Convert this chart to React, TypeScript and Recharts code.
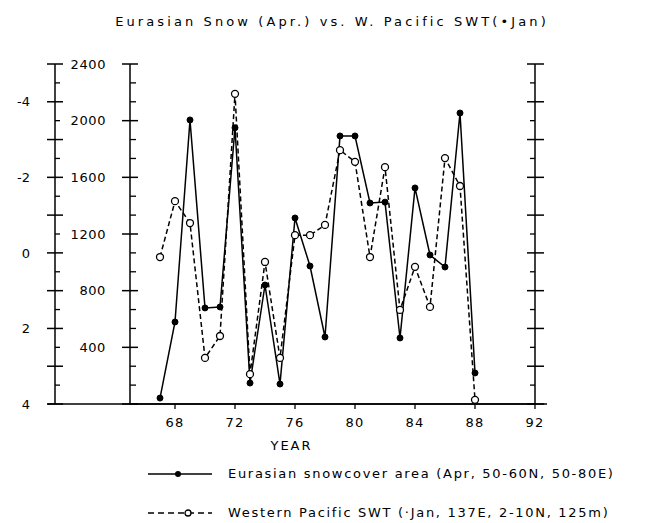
import { LineChart, Line, XAxis, YAxis, Legend, ReferenceLine } from 'recharts'

const YEARS = [67, 68, 69, 70, 71, 72, 73, 74, 75, 76, 77, 78, 79, 80, 81, 82, 83, 84, 85, 86, 87, 88]
// Eurasian snowcover area, April (inner left axis)
const SNOW_AREA = [42, 579, 2005, 678, 685, 1950, 148, 840, 141, 1313, 974, 473, 1892, 1892, 1419, 1425, 466, 1525, 1052, 967, 2054, 219]
// Western Pacific SWT anomaly, January (outer left axis, reversed)
const SWT_ANOMALY = [0.11, -1.37, -0.79, 2.78, 2.2, -4.21, 3.21, 0.24, 2.78, -0.47, -0.47, -0.74, -2.72, -2.41, 0.11, -2.27, 1.51, 0.37, 1.43, -2.51, -1.77, 3.89]

const YEAR_TICKS = [68, 72, 76, 80, 84, 88, 92]
const SNOW_LABELS = [400, 800, 1200, 1600, 2000, 2400]
const SWT_LABELS = [-4, -2, 0, 2, 4]

const SNOW_AXIS_TICKS = Array.from({ length: 19 }, (_, i) => (i * 400) / 3)
const SWT_AXIS_TICKS = Array.from({ length: 19 }, (_, i) => -5 + i * 0.5)

const data = YEARS.map((year, i) => ({ year, snow: SNOW_AREA[i], swt: SWT_ANOMALY[i] }))

const FONT = '"DejaVu Sans", sans-serif'
const INK = '#000'

const isInt = (v: number) => Math.abs(v - Math.round(v)) < 1e-6

const SnowTick = ({ x, y, payload }: any) => {
  const v = payload.value
  const major = isInt(v / 400)
  const label = SNOW_LABELS.find((l) => Math.abs(l - v) < 1e-6)
  return (
    <g>
      {major
        ? <line x1={x - 8} x2={x + 8} y1={y} y2={y} stroke={INK} strokeWidth={1.5} />
        : <line x1={x} x2={x + 6} y1={y} y2={y} stroke={INK} strokeWidth={1.3} />}
      {label !== undefined && (
        <text x={x - 24} y={y} dy="0.36em" textAnchor="end" fontSize={13} fontFamily={FONT} letterSpacing={0.6} fill={INK}>
          {label}
        </text>
      )}
    </g>
  )
}

const SwtTick = ({ x, y, payload }: any) => {
  const v = payload.value
  const major = isInt(v)
  const label = SWT_LABELS.find((l) => Math.abs(l - v) < 1e-6)
  return (
    <g>
      {major
        ? <line x1={x - 8} x2={x + 8} y1={y} y2={y} stroke={INK} strokeWidth={1.5} />
        : <line x1={x} x2={x + 5} y1={y} y2={y} stroke={INK} strokeWidth={1.3} />}
      {label !== undefined && (
        <text x={x - 25} y={y} dy="0.36em" textAnchor="end" fontSize={13} fontFamily={FONT} fill={INK}>
          {label}
        </text>
      )}
    </g>
  )
}

const RightTick = ({ x, y, payload }: any) => {
  const major = isInt(payload.value)
  return major
    ? <line x1={x - 8} x2={x + 9} y1={y} y2={y} stroke={INK} strokeWidth={1.5} />
    : <line x1={x - 5} x2={x} y1={y} y2={y} stroke={INK} strokeWidth={1.3} />
}

const BottomTick = ({ x, y, payload }: any) => (
  <g>
    <line x1={x} x2={x} y1={y} y2={y + 5} stroke={INK} strokeWidth={1.3} />
    <text x={x} y={y + 23} textAnchor="middle" fontSize={13} fontFamily={FONT} letterSpacing={1.2} fill={INK}>
      {payload.value}
    </text>
  </g>
)

const TopTick = ({ x, y }: any) => (
  <line x1={x} x2={x} y1={y} y2={y - 4} stroke={INK} strokeWidth={1.3} />
)

const renderLegend = (props: any) => {
  const items = props.payload || []
  return (
    <div style={{ fontFamily: FONT, fontSize: 13, letterSpacing: 1.7, color: INK }}>
      {items.map((entry: any) => {
        const dashed = entry.dataKey === 'swt'
        return (
          <div key={entry.value} style={{ display: 'flex', alignItems: 'center', height: 39 }}>
            <svg width={64} height={14} style={{ marginRight: 16 }}>
              <line x1={0} x2={64} y1={7} y2={7} stroke={INK} strokeWidth={1.5} strokeDasharray={dashed ? '6 4' : undefined} />
              {dashed
                ? <circle cx={40} cy={7} r={3} fill="#fff" stroke={INK} strokeWidth={1.3} />
                : <circle cx={30} cy={7} r={3} fill={INK} />}
            </svg>
            <span style={{ whiteSpace: 'nowrap' }}>{entry.value}</span>
          </div>
        )
      })}
    </div>
  )
}

export default function App() {
  return (
    <div style={{ position: 'relative', width: 635, height: 515, fontFamily: FONT }}>
      <div
        style={{
          position: 'absolute',
          top: 6,
          left: 324,
          transform: 'translateX(-50%)',
          whiteSpace: 'nowrap',
          fontSize: 13,
          letterSpacing: 3.1,
          color: INK,
        }}
      >
        Eurasian Snow (Apr.) vs. W. Pacific SWT(•Jan)
      </div>
      <LineChart width={635} height={515} data={data} margin={{ top: 56, right: 88, bottom: 69, left: 0 }}>
        <XAxis
          xAxisId="bottom"
          dataKey="year"
          type="number"
          domain={[65, 92]}
          allowDataOverflow
          ticks={YEAR_TICKS}
          interval={0}
          height={50}
          tickSize={0}
          tickMargin={0}
          tickLine={false}
          tick={<BottomTick />}
          axisLine={{ stroke: INK, strokeWidth: 1.5 }}
          label={{ value: 'YEAR', position: 'insideBottom', offset: 4, dx: -41, fontSize: 13, fontFamily: FONT, letterSpacing: 2, fill: INK }}
        />
        <XAxis
          xAxisId="top"
          orientation="top"
          dataKey="year"
          type="number"
          domain={[65, 92]}
          allowDataOverflow
          ticks={YEAR_TICKS}
          interval={0}
          height={0}
          tickSize={0}
          tickMargin={0}
          tickLine={false}
          tick={<TopTick />}
          axisLine={{ stroke: INK, strokeWidth: 1.5 }}
        />
        <YAxis
          yAxisId="snow"
          type="number"
          domain={[0, 2400]}
          allowDataOverflow
          ticks={SNOW_AXIS_TICKS}
          interval={0}
          width={75}
          tickSize={0}
          tickMargin={0}
          tickLine={false}
          tick={<SnowTick />}
          axisLine={{ stroke: INK, strokeWidth: 1.5 }}
        />
        <YAxis
          yAxisId="swt"
          type="number"
          domain={[-5, 4]}
          reversed
          allowDataOverflow
          ticks={SWT_AXIS_TICKS}
          interval={0}
          width={47}
          tickSize={0}
          tickMargin={0}
          tickLine={false}
          tick={<SwtTick />}
          axisLine={{ stroke: INK, strokeWidth: 1.5 }}
        />
        <YAxis
          yAxisId="swtRight"
          orientation="right"
          type="number"
          domain={[-5, 4]}
          reversed
          allowDataOverflow
          ticks={SWT_AXIS_TICKS}
          interval={0}
          width={20}
          tickSize={0}
          tickMargin={0}
          tickLine={false}
          tick={<RightTick />}
          axisLine={{ stroke: INK, strokeWidth: 1.5 }}
        />
        <ReferenceLine
          xAxisId="bottom"
          yAxisId="snow"
          segment={[{ x: 59.5, y: 0 }, { x: 92.8, y: 0 }]}
          stroke={INK}
          strokeWidth={1.5}
          ifOverflow="visible"
        />
        <Line
          xAxisId="bottom"
          yAxisId="snow"
          dataKey="snow"
          name="Eurasian snowcover area (Apr, 50-60N, 50-80E)"
          stroke={INK}
          strokeWidth={1.5}
          dot={{ r: 3, fill: INK, stroke: INK, strokeWidth: 1 }}
          isAnimationActive={false}
        />
        <Line
          xAxisId="bottom"
          yAxisId="swt"
          dataKey="swt"
          name="Western Pacific SWT (·Jan, 137E, 2-10N, 125m)"
          stroke={INK}
          strokeWidth={1.5}
          strokeDasharray="5 3"
          dot={{ r: 3.5, fill: '#fff', stroke: INK, strokeWidth: 1.3, strokeDasharray: 'none' }}
          isAnimationActive={false}
        />
        <Legend
          layout="horizontal"
          verticalAlign="middle"
          align="center"
          content={renderLegend}
          wrapperStyle={{ position: 'absolute', left: 140, top: 446, width: 495, height: 78 }}
        />
      </LineChart>
    </div>
  )
}
